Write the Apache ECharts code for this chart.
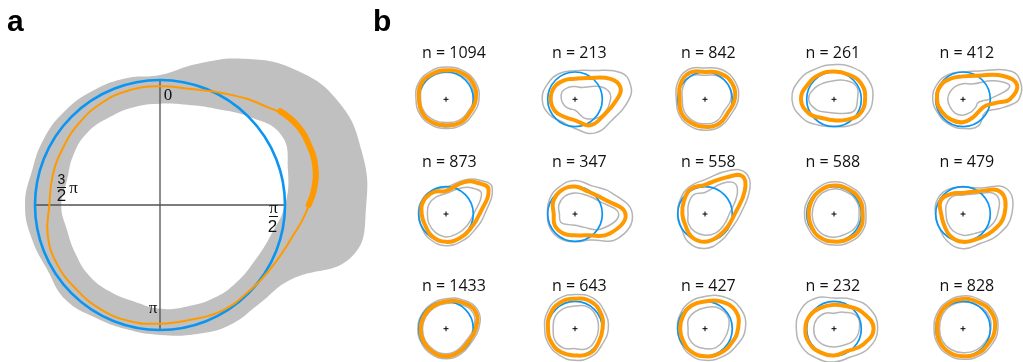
<!DOCTYPE html>
<html><head><meta charset="utf-8">
<script src="https://cdn.jsdelivr.net/npm/echarts@6/dist/echarts.min.js"></script>
<style>html,body{margin:0;padding:0;background:#fff}#c{width:1023px;height:362px}</style>
</head><body><div id="c"></div><script>
// ---------- Panel a (angles in degrees, clockwise from top; radii in units of the blue circle) ----------
const panelAAngles = [0,15,30,45,60,75,90,105,120,135,150,165,180,195,210,225,240,255,270,285,300,315,330,345];
const panelAOrange = [0.95,0.96,1.03,1.14,1.27,1.28,1.19,1.08,1.02,0.99,0.98,0.95,0.95,0.96,0.96,0.95,0.95,0.93,0.885,0.89,0.9,0.92,0.94,0.95];
const panelAGrayOuter = [1.04,1.17,1.35,1.53,1.65,1.67,1.65,1.59,1.2,1.12,1.11,1.07,1.04,1.03,1.04,1.07,1.04,1.06,1.08,1.06,1.07,1.07,1.06,1.05];
const panelAGrayInner = [0.81,0.83,0.89,1.0,1.12,1.06,1.0,0.92,0.88,0.87,0.86,0.84,0.83,0.8,0.8,0.8,0.78,0.77,0.79,0.77,0.8,0.82,0.81,0.81];
const panelAThickAngles = [52,60,68,76,84,90];
const panelAThickR = [1.22,1.27,1.285,1.28,1.24,1.19];

// ---------- Panel b (15 small panels, row-major) ----------
const smallAngles = [0,30,60,90,120,150,180,210,240,270,300,330];
const angles213 = [0,30,60,75,90,120,150,180,210,240,270,300,330];
const angles412 = [0,30,60,75,90,95,105,120,150,180,210,240,270,300,330];
const angles45 = [0,30,45,60,90,120,150,180,210,240,270,300,330];
const panelAngles = [smallAngles, angles213, smallAngles, smallAngles, angles412,
                     angles45, smallAngles, angles45, smallAngles, smallAngles,
                     smallAngles, smallAngles, smallAngles, smallAngles, smallAngles];
const sampleSizes = ['1094','213','842','261','412','873','347','558','588','479','1433','643','427','232','828'];
const orangeRadii = [
  [1.06,1.12,1.15,1.09,1.0,1.0,0.95,0.98,1.0,0.99,1.07,1.06],
  [0.75,0.9,1.5,1.72,1.54,1.2,1.1,0.77,0.75,0.85,0.89,0.88,0.8],
  [1.0,1.1,1.15,1.09,0.97,1.03,1.01,1.0,1.0,0.93,1.05,1.12],
  [1.02,1.05,1.15,1.14,1.08,0.87,0.77,0.8,1.05,1.21,1.1,1.05],
  [0.84,1.0,1.71,2.05,1.72,1.3,0.88,0.75,0.75,0.84,0.86,0.9,0.95,0.96,0.88],
  [0.85,1.35,1.62,1.8,1.23,1.05,1.02,1.02,0.97,0.87,0.89,0.95,0.92],
  [1.01,0.95,1.15,1.85,1.45,0.9,0.78,0.83,0.85,0.78,0.92,1.0],
  [1.07,1.55,1.95,1.68,1.09,0.95,0.95,1.02,0.97,0.83,0.83,0.9,1.05],
  [1.04,1.05,1.08,1.05,1.1,1.05,1.01,1.0,0.95,0.93,0.95,1.0],
  [0.77,0.95,1.6,1.52,1.25,1.05,1.02,0.93,0.8,0.8,0.95,0.85],
  [1.0,1.12,1.25,1.09,0.95,0.97,1.01,0.98,0.95,0.93,0.93,0.95],
  [1.1,1.15,1.1,1.01,1.0,1.05,0.98,1.0,1.0,0.99,1.05,1.1],
  [1.0,1.15,1.3,1.21,1.1,1.05,1.01,0.98,0.92,0.91,0.93,0.98],
  [0.88,0.95,1.2,1.45,1.2,0.95,0.98,1.0,1.05,1.05,1.0,0.9],
  [1.09,1.12,1.2,1.17,1.08,1.05,1.01,1.0,0.98,0.95,1.0,1.05]
];
const grayOuterRadii = [
  [1.18,1.22,1.25,1.21,1.12,1.1,1.07,1.08,1.1,1.1,1.17,1.17],
  [1.05,1.22,1.95,2.1,1.98,1.55,1.43,1.07,0.95,1.1,1.2,1.15,1.1],
  [1.15,1.25,1.28,1.22,1.1,1.14,1.13,1.12,1.1,1.05,1.17,1.25],
  [1.27,1.35,1.45,1.42,1.3,1.12,0.99,1.1,1.35,1.54,1.45,1.3],
  [1.0,1.2,2.05,2.2,2.05,1.85,1.35,0.95,1.12,1.07,1.05,1.05,1.11,1.1,1.05],
  [0.98,1.45,1.75,1.95,1.42,1.2,1.15,1.16,1.1,1.02,1.01,1.02,1.0],
  [1.23,1.2,1.55,2.1,1.8,1.1,1.02,1.05,1.05,1.01,1.08,1.15],
  [1.26,1.85,2.12,1.9,1.3,1.1,1.15,1.26,1.2,1.0,0.99,1.05,1.15],
  [1.18,1.17,1.2,1.17,1.22,1.18,1.14,1.12,1.08,1.08,1.09,1.13],
  [0.98,1.1,1.85,1.79,1.5,1.25,1.27,1.15,1.0,1.01,1.08,1.05],
  [1.1,1.22,1.35,1.2,1.05,1.07,1.1,1.07,1.04,1.03,1.03,1.05],
  [1.25,1.3,1.25,1.22,1.15,1.18,1.16,1.13,1.12,1.11,1.18,1.25],
  [1.18,1.35,1.5,1.48,1.3,1.2,1.16,1.1,1.02,1.01,1.05,1.12],
  [1.12,1.25,1.5,1.6,1.45,1.2,1.22,1.25,1.35,1.38,1.4,1.3],
  [1.2,1.23,1.3,1.28,1.2,1.16,1.12,1.1,1.08,1.06,1.1,1.15]
];
const grayInnerRadii = [
  [0.98,1.03,1.05,1.0,0.92,0.9,0.85,0.88,0.92,0.93,0.98,0.98],
  [0.47,0.5,0.95,1.25,1.3,1.15,0.82,0.4,0.4,0.45,0.5,0.55,0.5],
  [0.88,0.97,1.0,0.95,0.82,0.9,0.9,0.9,0.88,0.83,0.93,0.98],
  [0.68,0.8,0.95,0.86,0.85,0.6,0.5,0.55,0.75,0.93,0.82,0.7],
  [0.57,0.65,1.35,1.77,0.95,0.7,0.55,0.55,0.55,0.58,0.58,0.55,0.56,0.55,0.55],
  [0.75,1.1,1.35,1.5,1.01,0.88,0.83,0.84,0.78,0.72,0.68,0.72,0.72],
  [0.77,0.8,0.98,1.6,1.1,0.55,0.41,0.45,0.6,0.57,0.68,0.75],
  [0.79,1.3,1.57,1.35,0.89,0.8,0.8,0.78,0.75,0.7,0.62,0.7,0.82],
  [0.92,0.93,0.95,0.92,0.93,0.85,0.85,0.85,0.82,0.8,0.82,0.88],
  [0.69,0.85,1.4,1.27,1.05,0.83,0.78,0.72,0.65,0.62,0.7,0.75],
  [0.92,1.03,1.15,1.0,0.86,0.88,0.92,0.9,0.88,0.86,0.86,0.88],
  [0.83,0.92,0.9,0.86,0.85,0.85,0.73,0.82,0.85,0.8,0.85,0.85],
  [0.77,0.9,0.95,0.86,0.8,0.8,0.73,0.72,0.68,0.62,0.7,0.72],
  [0.57,0.7,0.95,0.93,0.85,0.7,0.67,0.7,0.75,0.74,0.72,0.65],
  [0.98,1.0,1.06,1.02,0.95,0.92,0.88,0.88,0.88,0.86,0.9,0.95]
];

// ---------- layout ----------
const BLUE = '#0a95f2', ORANGE = '#ff9900', GRAYFILL = '#c0c0c0', GRAYLINE = '#b5b5b5', AXIS = '#505050';
const colX = [446, 575, 705, 834, 963];
const rowY = [99.3, 214, 328.7];
const titleX = [422, 552, 681, 805.5, 939.5];
const titleY = [53.5, 162, 286];

const polar = [], angleAxis = [], radiusAxis = [], series = [];
function addPolar(cx, cy, unitPx, maxR) {
  const i = polar.length;
  polar.push({ center: [cx, cy], radius: unitPx * maxR });
  angleAxis.push({ polarIndex: i, type: 'value', min: 0, max: 360, startAngle: 90, clockwise: true, show: false,
    axisLine: {show:false}, axisTick: {show:false}, axisLabel: {show:false}, splitLine: {show:false} });
  radiusAxis.push({ polarIndex: i, type: 'value', min: 0, max: maxR, show: false,
    axisLine: {show:false}, axisTick: {show:false}, axisLabel: {show:false}, splitLine: {show:false} });
  return i;
}
function curve(pi, angles, radii, style, closed) {
  return { type: 'custom', coordinateSystem: 'polar', polarIndex: pi, silent: true, clip: false, animation: false,
    data: [[0, 0]],
    renderItem: function (params, api) {
      const pts = radii.map(function (r, k) { const c = api.coord([r, angles[k]]); return [c[0], c[1]]; });
      return { type: closed ? 'polygon' : 'polyline', shape: { points: pts, smooth: 0.45 }, style: style };
    } };
}
function unitCircle(pi, color, width) {
  return { type: 'custom', coordinateSystem: 'polar', polarIndex: pi, silent: true, clip: false, animation: false,
    data: [[0, 0]],
    renderItem: function (params, api) {
      const c0 = api.coord([0, 0]), c1 = api.coord([1, 0]);
      const r = Math.hypot(c1[0] - c0[0], c1[1] - c0[1]);
      return { type: 'circle', shape: { cx: c0[0], cy: c0[1], r: r }, style: { fill: 'none', stroke: color, lineWidth: width } };
    } };
}
function spokes(pi, pairs, color, width) {
  return { type: 'custom', coordinateSystem: 'polar', polarIndex: pi, silent: true, clip: false, animation: false,
    data: [[0, 0]],
    renderItem: function (params, api) {
      return { type: 'group', children: pairs.map(function (p) {
        const a = api.coord([p[0], p[1]]), b = api.coord([p[2], p[3]]);
        return { type: 'line', shape: { x1: a[0], y1: a[1], x2: b[0], y2: b[1] }, style: { stroke: color, lineWidth: width } };
      }) };
    } };
}
function plus(pi) {
  return { type: 'custom', coordinateSystem: 'polar', polarIndex: pi, silent: true, clip: false, animation: false,
    data: [[0, 0]],
    renderItem: function (params, api) {
      const c = api.coord([0, 0]); const h = 2.5;
      return { type: 'group', children: [
        { type: 'line', shape: { x1: c[0] - h, y1: c[1], x2: c[0] + h, y2: c[1] }, style: { stroke: '#000', lineWidth: 1 } },
        { type: 'line', shape: { x1: c[0], y1: c[1] - h, x2: c[0], y2: c[1] + h }, style: { stroke: '#000', lineWidth: 1 } }
      ] };
    } };
}

// Panel a
const pa = addPolar(160, 205, 125, 1.8);
series.push(curve(pa, panelAAngles, panelAGrayOuter, { fill: GRAYFILL, stroke: 'none' }, true));
series.push(curve(pa, panelAAngles, panelAGrayInner, { fill: '#ffffff', stroke: 'none' }, true));
series.push(spokes(pa, [[1, 0, 1, 180], [1, 90, 1, 270]], AXIS, 1.3));
series.push(unitCircle(pa, BLUE, 2.6));
series.push(curve(pa, panelAAngles, panelAOrange, { fill: 'none', stroke: ORANGE, lineWidth: 2 }, true));
series.push(curve(pa, panelAThickAngles, panelAThickR, { fill: 'none', stroke: ORANGE, lineWidth: 6, lineCap: 'round' }, false));

const Z = 100;
function label(x, y, text, font) {
  return { type: 'text', z: Z, x: x, y: y, style: { text: text, font: font, fill: '#111',
    align: 'center', textAlign: 'center', verticalAlign: 'middle', textVerticalAlign: 'middle' } };
}
const SERIF = '"Liberation Serif", "DejaVu Serif", serif';
const SANS = '"Liberation Sans", Arial, sans-serif';
const graphic = [
  { type: 'text', z: Z, x: 7, y: 8, style: { text: 'a', font: 'bold 30px ' + SANS, fill: '#000' } },
  { type: 'text', z: Z, x: 373, y: 8, style: { text: 'b', font: 'bold 30px ' + SANS, fill: '#000' } },
  label(168, 96, '0', '17px ' + SERIF),
  label(273.5, 209, 'π', '17px ' + SERIF),
  { type: 'line', z: Z, shape: { x1: 269, y1: 216.5, x2: 278, y2: 216.5 }, style: { stroke: '#111', lineWidth: 1 } },
  label(272.5, 227.5, '2', '17px ' + SANS),
  label(61.5, 180, '3', '14px ' + SANS),
  { type: 'line', z: Z, shape: { x1: 57, y1: 187.5, x2: 66, y2: 187.5 }, style: { stroke: '#111', lineWidth: 1 } },
  label(61.5, 196.5, '2', '17px ' + SANS),
  label(73.5, 188.5, 'π', '17px ' + SERIF),
  label(153, 308.5, 'π', '17px ' + SERIF)
];

// Panel b
for (let k = 0; k < sampleSizes.length; k++) {
  const r = Math.floor(k / 5), c = k % 5;
  const pi = addPolar(colX[c], rowY[r], 27.3, 2.5);
  const ang = panelAngles[k];
  series.push(curve(pi, ang, grayOuterRadii[k], { fill: 'none', stroke: GRAYLINE, lineWidth: 1.5 }, true));
  series.push(curve(pi, ang, grayInnerRadii[k], { fill: 'none', stroke: GRAYLINE, lineWidth: 1.5 }, true));
  series.push(unitCircle(pi, BLUE, 1.7));
  series.push(curve(pi, ang, orangeRadii[k], { fill: 'none', stroke: ORANGE, lineWidth: 4 }, true));
  series.push(plus(pi));
  graphic.push({ type: 'text', z: Z, x: titleX[c], y: titleY[r],
    style: { text: 'n = ' + sampleSizes[k], font: '16px "Open Sans", sans-serif', fill: '#111', verticalAlign: 'middle', textVerticalAlign: 'middle' } });
}

const chart = echarts.init(document.getElementById('c'), null, { renderer: 'canvas' });
chart.setOption({ animation: false, backgroundColor: '#fff', polar: polar, angleAxis: angleAxis, radiusAxis: radiusAxis, series: series, graphic: graphic });
</script></body></html>
